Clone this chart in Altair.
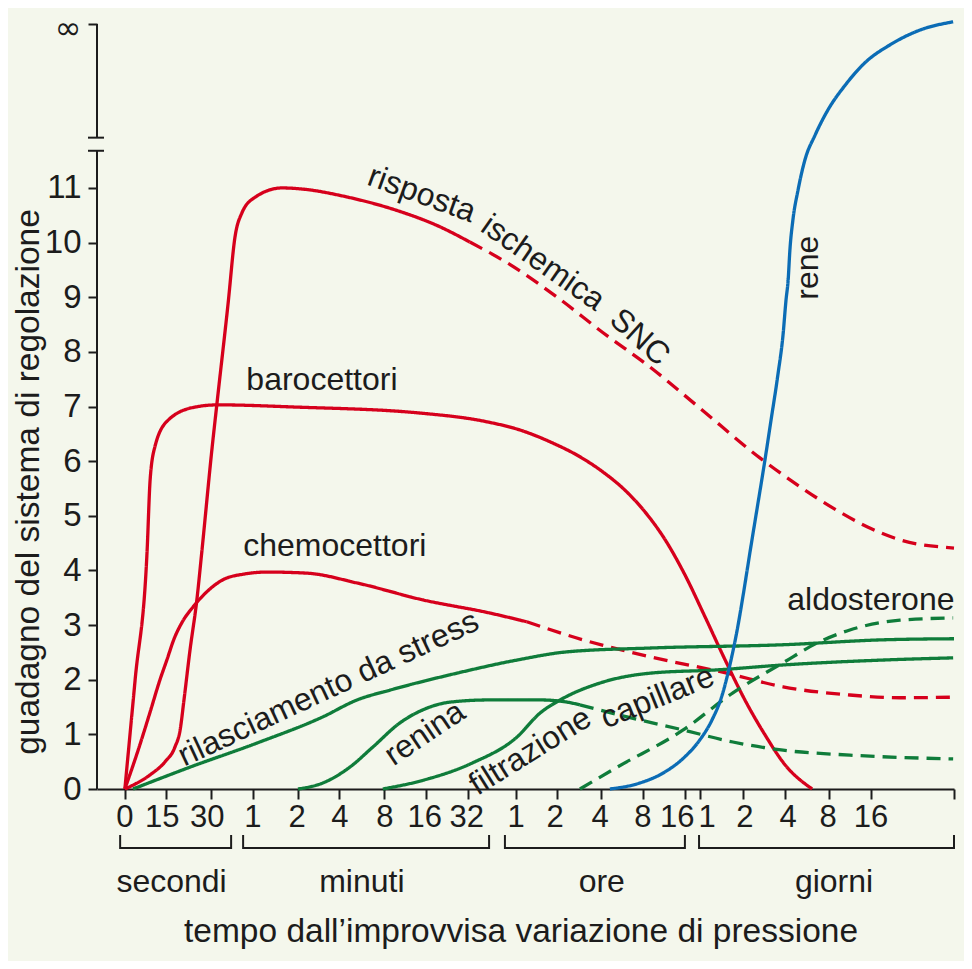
import altair as alt
import pandas as pd

FONT = "Liberation Sans"
INK = "#1c1c1c"
RED = "#d6001c"
GREEN = "#0f7c3a"
BLUE = "#0b6cb5"
BG = "#f4f7ec"

# ---------------- axis ticks / labels ----------------
tick_pos = [0.65, 1.61, 2.66, 3.64, 4.69, 5.65, 6.70, 7.68, 8.66, 9.78, 10.74,
            11.76, 12.74, 13.72, 14.07, 15.08, 16.06, 17.08, 18.06, 20.0]
tick_label_pos = [0.65, 1.52, 2.57, 3.64, 4.67, 5.67, 6.72, 7.65, 8.63, 9.78,
                  10.69, 11.74, 12.74, 13.54, 14.24, 15.12, 16.13, 17.06, 18.06]
tick_labels = ["0", "15", "30", "1", "2", "4", "8", "16", "32", "1", "2", "4",
               "8", "16", "1", "2", "4", "8", "16"]

groups = ["secondi", "minuti", "ore", "giorni"]
group_start = [0.54, 3.41, 9.52, 14.05]
group_end = [3.13, 9.15, 13.72, 20.0]
group_center = [1.74, 6.18, 11.78, 17.2]

y_ticks = list(range(12)) + [14]
y_break = [11.68, 11.92]
y_inf = 14

# ---------------- curves ----------------
isch_x = [0.65, 1.24, 1.59, 1.82, 1.94, 2.03, 2.17, 2.33, 2.45, 2.68, 2.80, 3.06,
          3.22, 3.38, 3.69, 4.32, 4.78, 5.86, 6.95, 8.00, 8.70]
isch_y = [0, 0.26, 0.50, 0.77, 1.08, 1.63, 2.54, 3.46, 4.37, 6.20, 7.06, 8.89,
          10.10, 10.54, 10.83, 11.00, 10.98, 10.83, 10.60, 10.29, 10.01]
isch_d_x = [8.70, 9.57, 10.74, 11.81, 12.91, 14.07, 15.47, 16.41, 17.18, 17.97,
            18.74, 20.0]
isch_d_y = [10.01, 9.63, 9.00, 8.35, 7.72, 6.97, 6.06, 5.53, 5.14, 4.80, 4.56, 4.41]

baro_x = [0.65, 0.89, 1.17, 1.24, 1.35, 1.66, 2.29, 2.82, 4.62, 7.54, 9.10, 9.87,
          10.64, 11.27, 11.81, 12.32, 12.79, 13.26, 13.72, 14.19, 14.66, 15.12,
          15.59, 16.06, 16.69]
baro_y = [0, 2.0, 4.37, 5.66, 6.26, 6.75, 6.99, 7.03, 6.99, 6.88, 6.72, 6.57,
          6.33, 6.08, 5.80, 5.47, 5.07, 4.56, 3.92, 3.15, 2.36, 1.63, 0.99, 0.44, 0]

chemo_x = [0.65, 0.96, 1.24, 1.47, 1.63, 1.80, 2.00, 2.24, 2.55, 2.94, 3.40, 3.97,
           4.90, 6.07, 7.61, 9.17, 10.03]
chemo_y = [0, 0.71, 1.41, 2.0, 2.36, 2.75, 3.07, 3.33, 3.60, 3.83, 3.93, 3.97,
           3.95, 3.77, 3.46, 3.22, 3.06]
chemo_d_x = [10.03, 11.34, 12.91, 14.70, 16.01, 17.57, 18.74, 19.98]
chemo_d_y = [3.06, 2.73, 2.42, 2.12, 1.87, 1.72, 1.67, 1.68]

rene_x = [11.97, 12.67, 13.25, 13.72, 14.07, 14.35, 14.59, 14.77, 14.94, 15.08,
          15.24, 15.40, 15.57, 15.73, 15.89, 16.01, 16.08, 16.13, 16.17, 16.24,
          16.36, 16.52, 16.76, 17.06, 17.46, 17.92, 18.51, 19.21, 19.98]
rene_y = [0, 0.11, 0.31, 0.59, 0.90, 1.26, 1.72, 2.27, 2.91, 3.55, 4.34, 5.11,
          5.93, 6.75, 7.58, 8.31, 8.95, 9.32, 9.86, 10.41, 10.96, 11.51, 11.97,
          12.43, 12.88, 13.29, 13.62, 13.89, 14.04]

stress_x = [0.84, 2.17, 3.73, 5.27, 6.07, 6.84, 8.40, 9.80, 10.97, 12.91, 16.01,
            18.34, 20.0]
stress_y = [0, 0.40, 0.84, 1.32, 1.63, 1.81, 2.12, 2.36, 2.51, 2.58, 2.64, 2.73, 2.75]

renina_x = [4.69, 5.27, 5.90, 6.44, 7.07, 7.61, 8.24, 9.17, 10.34, 10.97, 11.27]
renina_y = [0, 0.11, 0.40, 0.77, 1.21, 1.45, 1.59, 1.63, 1.63, 1.59, 1.54]
renina_d_x = [11.27, 12.37, 13.68, 14.84, 16.01, 17.57, 19.98]
renina_d_y = [1.54, 1.32, 1.08, 0.86, 0.71, 0.62, 0.55]

filt_x = [6.67, 7.61, 8.77, 9.80, 10.34, 10.81, 11.74, 12.91, 14.47, 16.01, 18.34, 19.98]
filt_y = [0, 0.16, 0.48, 0.95, 1.39, 1.63, 1.94, 2.12, 2.18, 2.27, 2.36, 2.40]

aldo_x = [11.27, 12.14, 13.68, 14.84, 16.01, 16.80, 17.57, 18.74, 19.98]
aldo_y = [0, 0.40, 1.08, 1.76, 2.31, 2.67, 2.91, 3.09, 3.13]

segments = [
    ("ischemica", "isch_s", "solid", isch_x, isch_y),
    ("ischemica", "isch_d", "dashed", isch_d_x, isch_d_y),
    ("barocettori", "baro", "solid", baro_x, baro_y),
    ("chemocettori", "chemo_s", "solid", chemo_x, chemo_y),
    ("chemocettori", "chemo_d", "dashed", chemo_d_x, chemo_d_y),
    ("stress", "stress", "solid", stress_x, stress_y),
    ("renina", "renina_s", "solid", renina_x, renina_y),
    ("renina", "renina_d", "dashed", renina_d_x, renina_d_y),
    ("filtrazione", "filt", "solid", filt_x, filt_y),
    ("aldosterone", "aldo", "dashed", aldo_x, aldo_y),
    ("rene", "rene", "solid", rene_x, rene_y),
]

rows = []
for series, seg, dash, xs, ys in segments:
    for i, (xv, yv) in enumerate(zip(xs, ys)):
        rows.append({"series": series, "seg": seg, "dash": dash, "x": xv, "y": yv, "i": i})
curves = pd.DataFrame(rows)

series_domain = ["ischemica", "barocettori", "chemocettori", "stress", "renina",
                 "filtrazione", "aldosterone", "rene"]
series_range = [RED, RED, RED, GREEN, GREEN, GREEN, GREEN, BLUE]

# ---------------- curve labels ----------------
lab_text = ["risposta", "ischemica", "SNC", "barocettori", "chemocettori",
            "rilasciamento da stress", "renina", "filtrazione", "capillare",
            "aldosterone", "rene"]
lab_x = [7.58, 10.41, 12.67, 5.25, 5.55, 5.40, 7.65, 10.11, 13.08, 18.06, 16.59]
lab_y = [10.89, 9.63, 8.27, 7.48, 4.45, 1.84, 1.02, 0.69, 1.68, 3.45, 9.54]
lab_angle = [20, 35, 42, 0, 0, 335, 326, 328, 338, 0, 270]
labels_df = pd.DataFrame({"text": lab_text, "x": lab_x, "y": lab_y, "angle": lab_angle})

# ---------------- shared encodings ----------------
xscale = alt.Scale(domain=[0, 20], nice=False, zero=False)
yscale = alt.Scale(domain=[0, 14], nice=False, zero=False)

xaxis = alt.Axis(values=tick_pos, labels=False, title=None, grid=False,
                 tickSize=10, tickWidth=2, tickColor=INK, domainColor=INK,
                 domainWidth=2)
yaxis = alt.Axis(values=y_ticks, title=None, grid=False, domain=False,
                 labelExpr="datum.value == 14 ? '' : datum.label",
                 tickSize=9, tickWidth=2, tickColor=INK, labelPadding=7,
                 labelFont=FONT, labelFontSize=33, labelColor=INK)


def X(field):
    return alt.X(field, type="quantitative", scale=xscale, axis=xaxis)


def Y(field):
    return alt.Y(field, type="quantitative", scale=yscale, axis=yaxis)


lines = alt.Chart(curves).mark_line(interpolate="monotone", strokeWidth=3.3,
                                    strokeCap="butt").encode(
    x=X("x"), y=Y("y"),
    color=alt.Color("series:N", scale=alt.Scale(domain=series_domain, range=series_range),
                    legend=None),
    strokeDash=alt.StrokeDash("dash:N", scale=alt.Scale(domain=["solid", "dashed"],
                                                        range=[[1, 0], [14, 8]]),
                              legend=None),
    detail="seg:N",
    order="i:Q",
)

# y axis line with break
yline_df = pd.DataFrame({"y0": [0, y_break[1]], "y1": [y_break[0], y_inf]})
yline = alt.Chart(yline_df).mark_rule(color=INK, strokeWidth=2).encode(
    x=alt.value(0), y=Y("y0"), y2="y1")

caps = alt.Chart(pd.DataFrame({"y": y_break})).mark_rule(color=INK, strokeWidth=2).encode(
    y=Y("y"), x=alt.value(-9), x2=alt.value(7))

inf = alt.Chart(pd.DataFrame({"y": [y_inf], "t": ["∞"]})).mark_text(
    font="DejaVu Sans", fontSize=32, color=INK, align="center", baseline="middle",
    dy=5).encode(
    y=Y("y"), x=alt.value(-29), text="t:N")

# x tick labels
tl = alt.Chart(pd.DataFrame({"x": tick_label_pos, "t": tick_labels})).mark_text(
    font=FONT, fontSize=31, color=INK, align="center", baseline="middle").encode(
    x=X("x"), y=alt.value(794), text="t:N")

# group brackets
gdf = pd.DataFrame({"g": groups, "s": group_start, "e": group_end, "c": group_center})
bh = alt.Chart(gdf).mark_rule(color=INK, strokeWidth=2).encode(
    x=X("s"), x2="e", y=alt.value(824))
ends = pd.DataFrame({"p": group_start + group_end})
bv = alt.Chart(ends).mark_rule(color=INK, strokeWidth=2).encode(
    x=X("p"), y=alt.value(811), y2=alt.value(825))
gl = alt.Chart(gdf).mark_text(font=FONT, fontSize=32, color=INK, align="center",
                              baseline="alphabetic").encode(
    x=X("c"), y=alt.value(868), text="g:N")

# axis titles
xtitle = alt.Chart(pd.DataFrame({"t": ["tempo dall’improvvisa variazione di pressione"]})).mark_text(
    font=FONT, fontSize=33.5, color=INK, align="center", baseline="alphabetic").encode(
    x=alt.value(424), y=alt.value(918), text="t:N")
ytitle = alt.Chart(pd.DataFrame({"t": ["guadagno del sistema di regolazione"]})).mark_text(
    font=FONT, fontSize=33.5, color=INK, align="center", baseline="middle", angle=270).encode(
    x=alt.value(-68), y=alt.value(458), text="t:N")

# curve labels
cl = alt.Chart(labels_df).mark_text(font=FONT, fontSize=32, color=INK, align="center",
                                    baseline="middle").encode(
    x=X("x"), y=Y("y"), text="text:N", angle=alt.Angle("angle:Q", scale=None))

chart = alt.layer(lines, yline, caps, inf, tl, bh, bv, gl, xtitle, ytitle, cl).properties(
    width=857, height=765,
    padding={"left": 89, "top": 16, "right": 10, "bottom": 172},
    autosize=alt.AutoSizeParams(type="none"),
    background=BG,
).configure_view(stroke=None)

chart.save("out.html", embed_options={"renderer": "svg", "actions": False})
